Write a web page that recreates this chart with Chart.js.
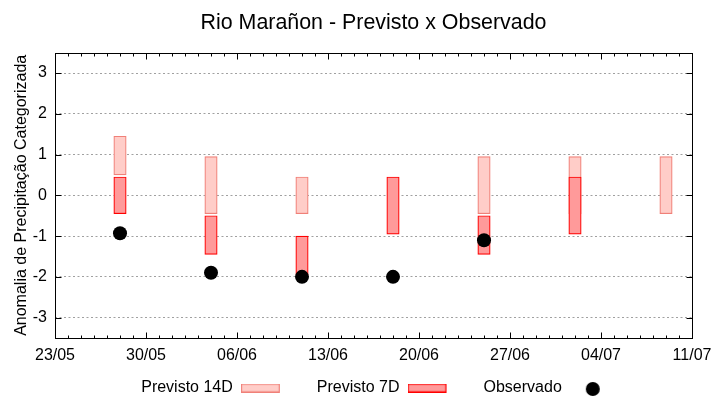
<!DOCTYPE html>
<html>
<head>
<meta charset="utf-8">
<script src="https://cdn.jsdelivr.net/npm/chart.js@4"></script>
<style>
  html, body { margin: 0; padding: 0; background: #fff; }
  #wrap { width: 720px; height: 400px; }
</style>
</head>
<body>
<div id="wrap"><canvas id="c" width="720" height="400"></canvas></div>
<script>
// ---- data ----
const startDate = '23/05';
const forecastDates = ['28/05', '04/06', '11/06', '18/06', '25/06', '02/07', '09/07'];
const prev14Low  = [0.5, -0.45, -0.45, null, -0.45, -0.45, -0.45];
const prev14High = [1.45, 0.95, 0.45, null, 0.95, 0.95, 0.95];
const prev7Low   = [-0.45, -1.45, -1.95, -0.95, -1.45, -0.95, null];
const prev7High  = [0.45, -0.5, -1.0, 0.45, -0.5, 0.45, null];
const observed   = [-0.93, -1.9, -2.0, -2.0, -1.1, null, null];
const xTickLabels = ['23/05', '30/05', '06/06', '13/06', '20/06', '27/06', '04/07', '11/07'];
const yTicks = [-3, -2, -1, 0, 1, 2, 3];

// ---- helpers ----
function dayOfYear(s) {
  const [d, m] = s.split('/').map(Number);
  return (Date.UTC(2023, m - 1, d) - Date.UTC(2023, 0, 1)) / 86400000;
}
const d0 = dayOfYear(startDate);
const xs = forecastDates.map(s => dayOfYear(s) - d0);
const xMax = (xTickLabels.length - 1) * 7;

function rangeData(lo, hi) {
  const out = [];
  xs.forEach((x, i) => { if (lo[i] !== null && hi[i] !== null) out.push({ x: x, y: [lo[i], hi[i]] }); });
  return out;
}
const obsData = [];
xs.forEach((x, i) => { if (observed[i] !== null) obsData.push({ x: x, y: observed[i] }); });

const c14 = { bg: '#ffcdc8', border: '#f08078' };
const c7 = { bg: '#ff9a9a', border: '#ff0000' };

// legend icons: 66px wide slot, mark in the left part (next to the text)
function rectIcon(bg, border) {
  const cv = document.createElement('canvas');
  cv.width = 66; cv.height = 9;
  const g = cv.getContext('2d');
  g.fillStyle = bg; g.fillRect(0, 0, 39, 9);
  g.strokeStyle = border; g.lineWidth = 1.2; g.strokeRect(0.6, 0.6, 37.8, 7.8);
  return cv;
}
function dotIcon() {
  const cv = document.createElement('canvas');
  cv.width = 66; cv.height = 16;
  const g = cv.getContext('2d');
  g.fillStyle = '#000'; g.beginPath(); g.arc(23, 9, 7, 0, Math.PI * 2); g.fill();
  return cv;
}
const legendIcons = [rectIcon(c14.bg, c14.border), rectIcon(c7.bg, c7.border), dotIcon()];

const framePlugin = {
  id: 'frame',
  afterLayout(chart) {
    if (chart.legend) { chart.legend.left += 15; chart.legend.right += 15; }
  },
  afterDraw(chart) {
    const { ctx, chartArea: a, scales: { x, y } } = chart;
    ctx.save();
    ctx.strokeStyle = '#000';
    ctx.lineWidth = 1;
    const L = Math.round(a.left) + 0.5, R = Math.round(a.right) + 0.5;
    const T = Math.round(a.top) + 0.5, B = Math.round(a.bottom) + 0.5;
    ctx.beginPath();
    x.ticks.forEach(t => {
      const px = Math.round(x.getPixelForValue(t.value)) + 0.5;
      const len = (t.value % 7 === 0) ? 6 : 3;
      ctx.moveTo(px, B); ctx.lineTo(px, B - len);
      ctx.moveTo(px, T); ctx.lineTo(px, T + len);
    });
    y.ticks.forEach(t => {
      const py = Math.round(y.getPixelForValue(t.value)) + 0.5;
      ctx.moveTo(L, py); ctx.lineTo(L + 6, py);
      ctx.moveTo(R, py); ctx.lineTo(R - 6, py);
    });
    ctx.stroke();
    ctx.strokeRect(L, T, R - L, B - T);
    ctx.restore();
  }
};

const font = 'Liberation Sans';

new Chart(document.getElementById('c'), {
  data: {
    datasets: [
      {
        type: 'scatter', label: 'Observado', data: obsData, order: 0,
        pointRadius: 7, pointHoverRadius: 7, backgroundColor: '#000', borderWidth: 0
      },
      {
        type: 'bar', label: 'Previsto 7D', data: rangeData(prev7Low, prev7High), order: 1,
        backgroundColor: c7.bg, borderColor: c7.border, borderWidth: 1.2, borderSkipped: false,
        barThickness: 12.4, grouped: false
      },
      {
        type: 'bar', label: 'Previsto 14D', data: rangeData(prev14Low, prev14High), order: 2,
        backgroundColor: c14.bg, borderColor: c14.border, borderWidth: 1.2, borderSkipped: false,
        barThickness: 12.4, grouped: false
      }
    ]
  },
  options: {
    responsive: false,
    animation: false,
    events: [],
    layout: { padding: { left: 3, right: 28, top: 0, bottom: 0 } },
    scales: {
      x: {
        type: 'linear', min: 0, max: xMax, offset: false,
        afterBuildTicks: s => { s.ticks = Array.from({ length: xMax + 1 }, (_, i) => ({ value: i })); },
        afterFit: s => { s.height = 32; },
        ticks: {
          autoSkip: false, maxRotation: 0, padding: 8, color: '#000',
          font: { family: font, size: 16 },
          callback: v => (v % 7 === 0 ? xTickLabels[v / 7] : '')
        },
        grid: { display: false, drawTicks: false, offset: false },
        border: { display: false }
      },
      y: {
        type: 'linear', min: -3.5, max: 3.5,
        afterBuildTicks: s => { s.ticks = yTicks.map(v => ({ value: v })); },
        afterFit: s => { s.width = 52; },
        ticks: { padding: 8, color: '#000', font: { family: font, size: 16 } },
        grid: { color: '#a0a0a0', lineWidth: 1, drawTicks: false },
        border: { display: false, dash: [2, 2.5] },
        title: {
          display: true, text: 'Anomalia de Precipitação Categorizada', color: '#000',
          font: { family: font, size: 16 }, padding: { top: 9, bottom: 0 }
        }
      }
    },
    plugins: {
      title: {
        display: true, fullSize: false, text: 'Rio Marañon - Previsto x Observado', color: '#000',
        font: { family: font, size: 21.4, weight: 'normal' }, padding: { top: 10, bottom: 17 }
      },
      legend: {
        position: 'bottom', rtl: true, reverse: true, fullSize: false, maxHeight: 30,
        labels: {
          usePointStyle: true, pointStyleWidth: 66, boxHeight: 16, padding: 10,
          color: '#000', font: { family: font, size: 16 },
          generateLabels: () => ['Previsto 14D', 'Previsto 7D', 'Observado'].map((t, i) => ({
            text: t, pointStyle: legendIcons[i], fontColor: '#000', hidden: false,
            lineWidth: 0, strokeStyle: 'rgba(0,0,0,0)', fillStyle: 'rgba(0,0,0,0)', datasetIndex: i
          }))
        }
      },
      tooltip: { enabled: false }
    }
  },
  plugins: [framePlugin]
});
</script>
</body>
</html>
